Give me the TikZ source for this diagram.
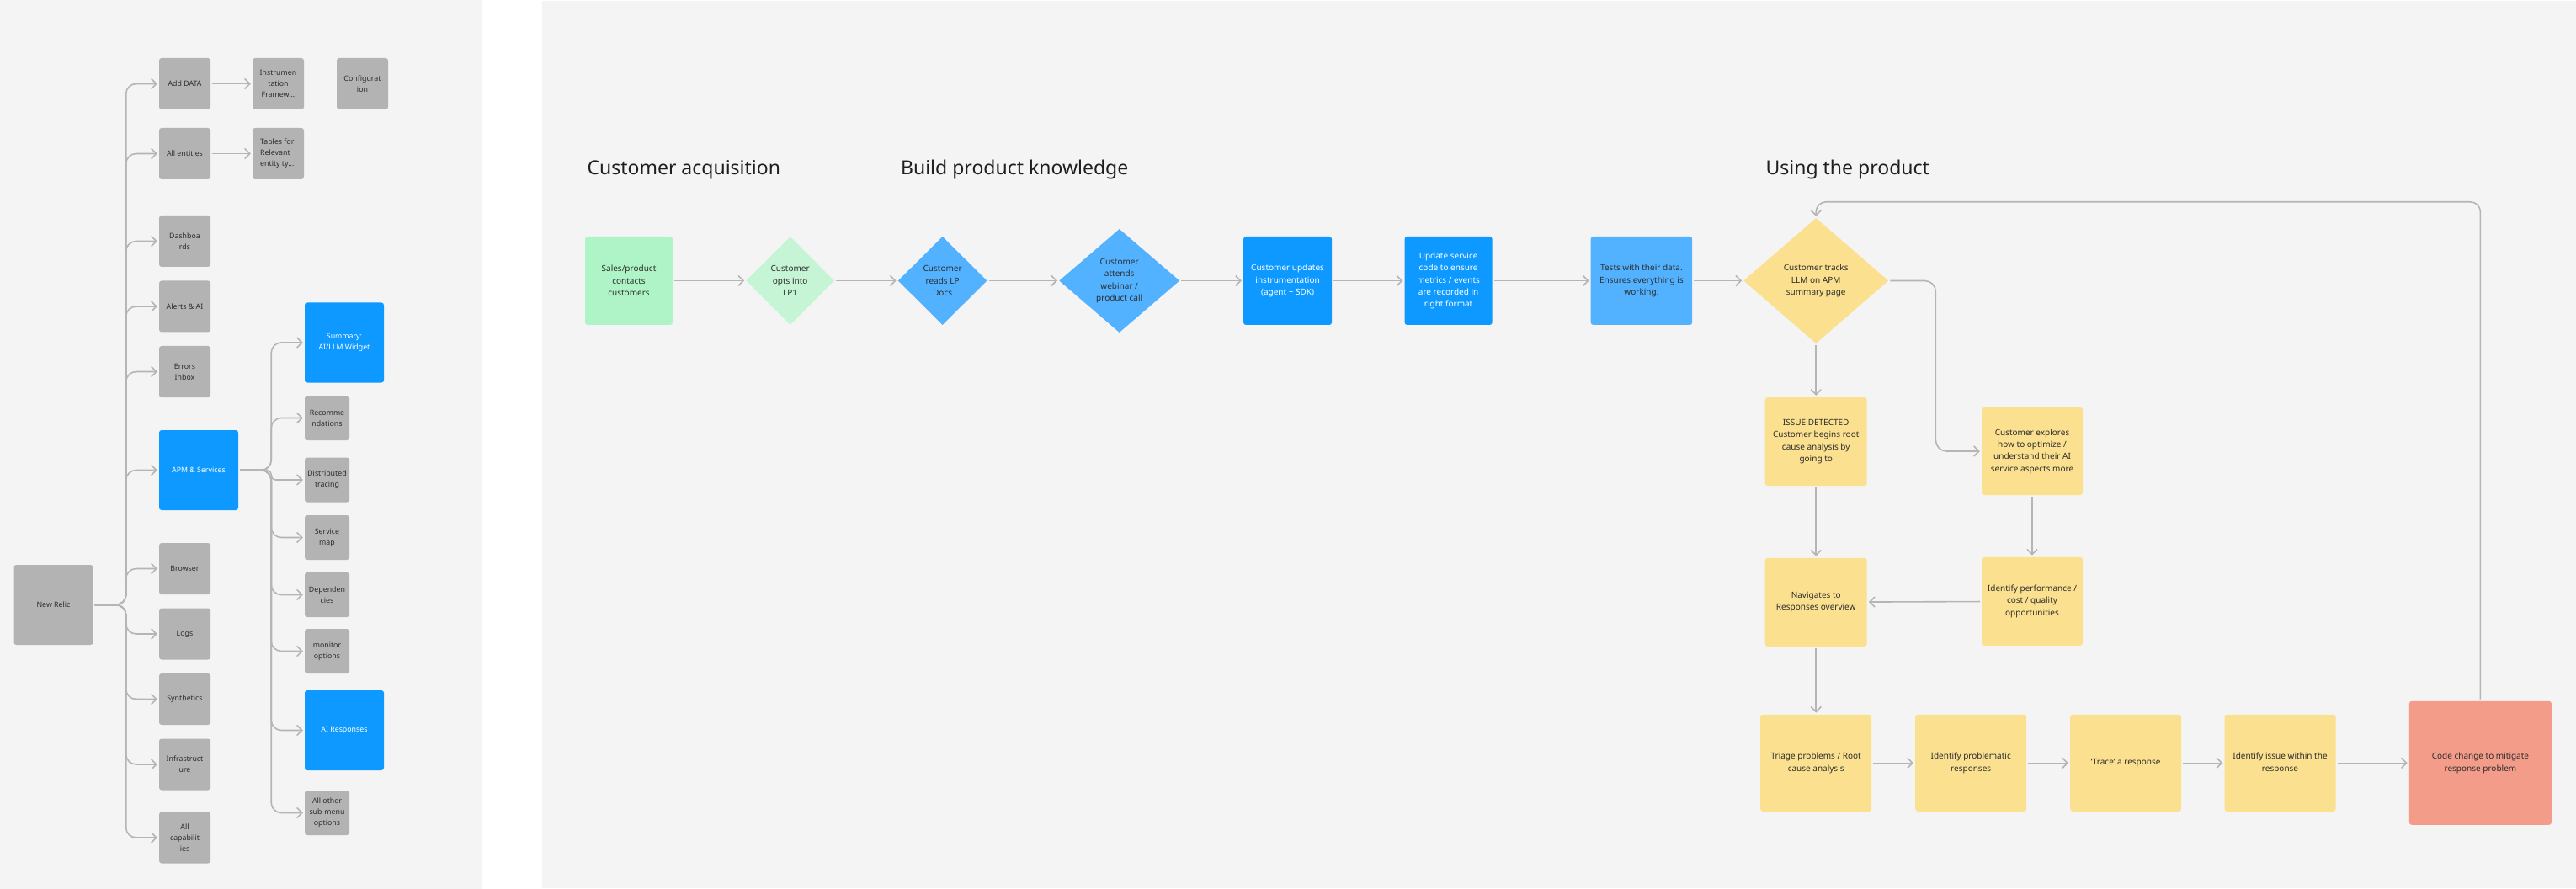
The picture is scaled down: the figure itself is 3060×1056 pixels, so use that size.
\documentclass[tikz,border=0pt]{standalone}
\usepackage{fontspec}
\setmainfont{Noto Sans}
\usepackage{xcolor}
\usetikzlibrary{arrows.meta,positioning,shapes.geometric}
\definecolor{panelbg}{HTML}{F4F4F4}
\definecolor{boxgray}{HTML}{B3B3B3}
\definecolor{linegray}{HTML}{B5B5B5}
\definecolor{figblue}{HTML}{0D99FF}
\definecolor{softblue}{HTML}{52B2FF}
\definecolor{mint}{HTML}{AFF4C6}
\definecolor{softmint}{HTML}{C6F5D5}
\definecolor{sticky}{HTML}{FAE08F}
\definecolor{salmon}{HTML}{F39C89}
\definecolor{ink}{HTML}{2E2E2E}

\begin{document}
\begin{tikzpicture}[
  x=1pt, y=-1pt,
  card/.style={rectangle, rounded corners=3pt, fill=boxgray, text=ink, align=center, inner sep=1pt, font=\fontsize{8.8}{13}\selectfont},
  small/.style={card, minimum width=61pt, minimum height=61pt},
  tiny/.style={card, minimum width=53pt, minimum height=53pt},
  big/.style={card, minimum width=94pt, minimum height=95pt},
  hot/.style={fill=figblue, text=white},
  tile/.style={rectangle, rounded corners=3pt, text=ink, align=center, inner sep=1pt, font=\fontsize{10}{14.3}\selectfont, minimum width=105pt, minimum height=105pt},
  gem/.style={diamond, text=ink, align=center, inner sep=0pt, font=\fontsize{10}{14.3}\selectfont},
  title/.style={anchor=base west, text=black!88, font=\fontsize{23}{27}\selectfont},
  arrow/.style={draw=linegray, line width=1.6pt, -{Straight Barb[length=6pt,width=12pt]}, shorten <=2pt, shorten >=2pt},
  fork/.style={arrow, rounded corners=12pt}
]
\useasboundingbox (0,0) rectangle (3060,1056);
\fill[white] (0,0) rectangle (3060,1056);
\fill[panelbg] (0,0) rectangle (573,1056);
\fill[panelbg] (644,1) rectangle (3060,1055);

% left panel: menu tree
\node[big] (newrelic) at (63.5,718.5) {New Relic};
\node[small] (adddata) at (219.5,99.5) {Add DATA};
\node[small] (instr) at (330.5,99.5) {Instrumen\\tation\\Framew...};
\node[small] (config) at (430.5,99.5) {Configurat\\ion};
\node[small] (entities) at (219.5,182.5) {All entities};
\node[small, align=left] (tables) at (330.5,182.5) {Tables for:\\Relevant\\entity ty...};
\node[small] (dash) at (219.5,286.5) {Dashboa\\rds};
\node[small] (alerts) at (219.5,364) {Alerts \& AI};
\node[small] (errors) at (219.5,441.5) {Errors\\Inbox};
\node[big, hot] (apm) at (236,558.5) {APM \& Services};
\node[small] (browser) at (219.5,675.5) {Browser};
\node[small] (logs) at (219.5,753) {Logs};
\node[small] (synth) at (219.5,830.5) {Synthetics};
\node[small] (infra) at (219.5,908) {Infrastruct\\ure};
\node[small] (allcap) at (219.5,995) {All\\capabilit\\ies};

\node[big, hot] (summary) at (409,407) {Summary:\\AI/LLM Widget};
\node[tiny] (recomm) at (388.5,496.5) {Recomme\\ndations};
\node[tiny] (tracing) at (388.5,570) {Distributed\\tracing};
\node[tiny] (svcmap) at (388.5,638.5) {Service\\map};
\node[tiny] (deps) at (388.5,706.5) {Dependen\\cies};
\node[tiny] (monitor) at (388.5,773.5) {monitor\\options};
\node[big, hot] (airesp) at (409,867.5) {AI Responses};
\node[tiny] (allother) at (388.5,965.5) {All other\\sub-menu\\options};

\foreach \kid in {adddata,entities,dash,alerts,errors,apm,browser,logs,synth,infra,allcap}
  \draw[fork] (newrelic.east) -- ++(39,0) |- (\kid.west);
\foreach \kid in {summary,recomm,svcmap,deps,monitor,airesp,allother}
  \draw[fork] (apm.east) -- ++(39,0) |- (\kid.west);
\draw[fork, rounded corners=5pt] (apm.east) -- ++(39,0) |- (tracing.west);
\draw[arrow] (adddata) -- (instr);
\draw[arrow] (entities) -- (tables);

% right panel: customer journey
\node[title] (acq) at (694,208) {Customer acquisition};
\node[title] (know) at (1066.6,208) {Build product knowledge};
\node[title] (using) at (2094,208) {Using the product};

\node[tile, fill=mint, minimum width=104pt] (sales) at (747,333.5) {Sales/product\\contacts\\customers};
\node[gem, fill=softmint, minimum width=104.6pt, minimum height=105pt, right=87pt of sales] (optin) {Customer\\opts into\\LP1};
\node[gem, fill=softblue, minimum width=105.7pt, minimum height=105pt, right=75.4pt of optin] (lpdocs) {Customer\\reads LP\\Docs};
\node[gem, fill=softblue, minimum width=143pt, minimum height=123pt, right=85.3pt of lpdocs] (webinar) {Customer\\attends\\webinar /\\product call};
\node[tile, fill=figblue, text=white, right=75.5pt of webinar] (updates) {Customer updates\\instrumentation\\(agent + SDK)};
\node[tile, fill=figblue, text=white, minimum width=104pt, right=86.1pt of updates] (svccode) {Update service\\code to ensure\\metrics / events\\are recorded in\\right format};
\node[tile, fill=softblue, minimum width=120.5pt, right=116.7pt of svccode] (tests) {Tests with their data.\\Ensures everything is\\working.};
\node[gem, fill=sticky, minimum width=172pt, minimum height=149pt, right=60.6pt of tests] (track) {Customer tracks\\LLM on APM\\summary page};

\node[tile, fill=sticky, minimum width=121pt, below=63.7pt of track] (issue) {ISSUE DETECTED\\Customer begins root\\cause analysis by\\going to};
\node[tile, fill=sticky, minimum width=120pt, minimum height=104pt] (explore) at (2414,536) {Customer explores\\how to optimize /\\understand their AI\\service aspects more};
\node[tile, fill=sticky, minimum width=121pt, below=85.3pt of issue] (navigate) {Navigates to\\Responses overview};
\node[tile, fill=sticky, minimum width=120pt] (perf) at (2414,714.3) {Identify performance /\\cost / quality\\opportunities};

\node[tile, fill=sticky, minimum width=132pt, minimum height=115pt, below=80.6pt of navigate] (triage) {Triage problems / Root\\cause analysis};
\node[tile, fill=sticky, minimum width=132pt, minimum height=115pt, right=51.6pt of triage] (problem) {Identify problematic\\responses};
\node[tile, fill=sticky, minimum width=132pt, minimum height=115pt, right=51.6pt of problem] (trace) {`Trace' a response};
\node[tile, fill=sticky, minimum width=132pt, minimum height=115pt, right=50.9pt of trace] (issuein) {Identify issue within the\\response};
\node[tile, fill=salmon, minimum width=169pt, minimum height=147pt, right=87pt of issuein] (code) {Code change to mitigate\\response problem};

\foreach \a/\b in {sales/optin,optin/lpdocs,lpdocs/webinar,webinar/updates,updates/svccode,svccode/tests,tests/track}
  \draw[arrow] (\a) -- (\b);
\draw[arrow] (track) -- (issue);
\draw[fork, rounded corners=13pt] (track.east) -- ++(56,0) |- (explore.west);
\draw[arrow] (issue) -- (navigate);
\draw[arrow] (explore) -- (perf);
\draw[arrow] (perf) -- (navigate);
\draw[arrow] (navigate) -- (triage);
\foreach \a/\b in {triage/problem,problem/trace,trace/issuein,issuein/code}
  \draw[arrow] (\a) -- (\b);
\draw[fork] (code.north) |- ([yshift=19pt]track.north) -- (track.north);
\end{tikzpicture}
\end{document}
